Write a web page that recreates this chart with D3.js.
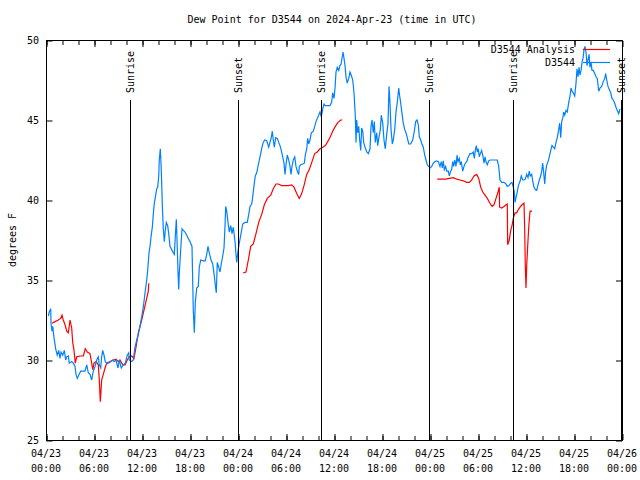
<!DOCTYPE html>
<html><head><meta charset="utf-8">
<script src="https://cdn.jsdelivr.net/npm/d3@7"></script>
<style>
body{margin:0;background:#fff}
text{font-family:"DejaVu Sans Mono","Liberation Mono",monospace;font-size:10px;fill:#000}
</style>
</head><body>
<svg id="chart" width="640" height="480"></svg>
<script>
// ---------------- data ----------------
const chartTitle = "Dew Point for D3544 on 2024-Apr-23 (time in UTC)";
const yLabel = "degrees F";
const startTime = "2024-04-23T00:00:00Z";
const spanHours = 72;
const seriesNames = ["D3544 Analysis", "D3544"];
const seriesColors = ["#ff0000", "#0080ff"];
const yTicks = [25, 30, 35, 40, 45, 50];
const xTickLabels = [
  ["04/23","00:00"],["04/23","06:00"],["04/23","12:00"],["04/23","18:00"],
  ["04/24","00:00"],["04/24","06:00"],["04/24","12:00"],["04/24","18:00"],
  ["04/25","00:00"],["04/25","06:00"],["04/25","12:00"],["04/25","18:00"],
  ["04/26","00:00"]
];
const sunEventHours = [10.56, 23.96, 34.41, 47.91, 58.41, 71.88];
const sunEventNames = ["Sunrise","Sunset","Sunrise","Sunset","Sunrise","Sunset"];

// observations: [hours since start, dew point F]
const obsSeries = [[0.29,32.75],[0.41,33.0],[0.59,33.2],[0.63,32.3],[0.75,31.8],[0.84,32.1],[1.0,31.4],[1.21,30.7],[1.41,30.3],[1.59,30.6],[1.75,30.1],[1.88,30.5],[2.09,30.3],[2.29,30.6],[2.46,30.0],[2.59,30.2],[2.79,30.25],[2.91,29.8],[3.21,29.9],[3.41,29.8],[3.63,29.6],[3.75,29.1],[3.91,28.85],[4.13,29.1],[4.34,29.3],[4.59,29.3],[4.88,29.3],[5.09,29.7],[5.29,29.2],[5.5,29.1],[5.71,28.75],[5.91,29.3],[6.13,29.6],[6.34,30.0],[6.54,30.2],[6.66,29.7],[6.84,29.5],[6.96,30.2],[7.09,30.6],[7.25,30.3],[7.41,29.9],[7.59,29.8],[7.79,29.8],[8.09,29.9],[8.34,30.0],[8.5,29.9],[8.75,30.0],[9.0,29.5],[9.16,30.0],[9.41,29.5],[9.66,29.7],[9.91,29.8],[10.16,30.3],[10.34,30.45],[10.41,30.0],[10.71,29.9],[10.91,30.0],[11.13,30.8],[11.34,31.25],[11.54,31.6],[11.75,32.1],[11.96,32.7],[12.16,33.3],[12.38,34.2],[12.59,35.0],[12.71,35.6],[12.88,36.7],[13.0,37.1],[13.13,37.7],[13.29,38.3],[13.41,39.1],[13.54,39.8],[13.71,40.3],[13.84,40.7],[13.96,40.8],[14.09,41.5],[14.16,42.5],[14.29,43.2],[14.41,41.9],[14.54,39.7],[14.66,38.2],[14.79,37.4],[14.91,38.1],[15.04,38.6],[15.21,38.4],[15.34,37.9],[15.5,37.1],[15.71,36.9],[15.91,36.7],[16.04,36.6],[16.16,37.7],[16.29,38.8],[16.41,37.0],[16.5,35.5],[16.59,34.4],[16.66,35.4],[16.84,36.9],[17.0,38.2],[17.16,38.1],[17.38,38.0],[17.59,37.8],[17.79,37.6],[18.0,37.4],[18.25,37.1],[18.41,33.1],[18.54,31.7],[18.66,33.6],[18.84,34.5],[19.04,34.6],[19.16,35.8],[19.34,36.25],[19.66,36.2],[19.91,36.2],[20.09,36.6],[20.25,37.1],[20.41,36.7],[20.63,36.25],[20.84,36.0],[21.0,35.4],[21.16,34.7],[21.29,34.2],[21.41,36.1],[21.59,35.8],[21.75,35.5],[21.91,36.0],[22.09,36.5],[22.25,37.0],[22.38,38.4],[22.46,39.6],[22.59,39.3],[22.75,38.6],[22.91,38.0],[23.09,38.4],[23.25,37.9],[23.41,38.3],[23.63,37.4],[23.75,36.6],[23.84,36.1],[24.0,36.8],[24.16,37.3],[24.38,37.9],[24.59,38.5],[24.88,38.6],[25.16,38.6],[25.34,39.1],[25.5,39.6],[25.71,39.75],[25.84,40.2],[26.0,40.9],[26.16,41.5],[26.34,41.7],[26.5,42.1],[26.66,42.5],[26.84,42.9],[27.0,43.3],[27.16,43.6],[27.34,43.75],[27.59,43.7],[27.84,43.3],[28.0,43.6],[28.16,43.9],[28.29,44.3],[28.41,43.75],[28.54,43.3],[28.71,43.9],[28.91,43.85],[29.09,43.6],[29.25,43.4],[29.41,43.1],[29.59,42.7],[29.75,42.3],[29.88,41.6],[30.0,42.2],[30.16,42.8],[30.34,42.5],[30.5,42.1],[30.63,41.6],[30.75,42.1],[30.91,42.5],[31.09,42.7],[31.25,42.1],[31.41,41.8],[31.59,41.6],[31.66,42.1],[31.84,42.2],[32.09,42.25],[32.29,42.3],[32.41,42.8],[32.59,43.2],[32.71,43.85],[32.84,43.5],[33.0,43.75],[33.16,44.2],[33.41,44.3],[33.59,44.6],[33.75,44.9],[33.91,45.1],[34.09,45.3],[34.25,45.5],[34.41,45.2],[34.59,45.7],[34.75,46.0],[34.91,45.9],[35.16,45.9],[35.5,45.9],[35.71,46.1],[35.84,46.7],[36.0,46.35],[36.13,47.0],[36.25,48.0],[36.41,48.3],[36.59,48.1],[36.75,48.4],[36.88,48.5],[37.0,48.85],[37.13,49.25],[37.25,48.85],[37.38,48.4],[37.5,47.7],[37.66,47.3],[37.84,47.6],[38.0,48.0],[38.16,47.8],[38.34,47.5],[38.5,46.7],[38.66,45.3],[38.75,43.6],[38.84,45.0],[38.96,44.2],[39.09,44.6],[39.21,43.75],[39.34,43.1],[39.46,44.5],[39.59,44.3],[39.71,43.6],[39.88,43.3],[40.09,43.0],[40.29,42.9],[40.5,43.2],[40.63,44.6],[40.75,45.0],[40.91,44.2],[41.04,44.9],[41.16,43.6],[41.34,44.2],[41.46,43.4],[41.63,43.95],[41.79,44.4],[41.91,45.3],[42.09,44.8],[42.25,43.75],[42.41,43.2],[42.59,44.1],[42.75,44.8],[42.88,47.1],[43.0,46.05],[43.13,44.4],[43.29,43.5],[43.41,43.75],[43.59,44.4],[43.75,45.5],[43.91,46.1],[44.09,47.0],[44.21,46.5],[44.34,46.05],[44.5,45.4],[44.66,44.8],[44.84,44.4],[45.0,44.2],[45.16,43.9],[45.34,43.5],[45.59,43.5],[45.84,43.75],[46.04,44.3],[46.21,44.9],[46.38,45.0],[46.54,44.7],[46.66,43.95],[46.84,43.75],[47.0,43.5],[47.16,43.3],[47.34,42.8],[47.5,42.5],[47.66,42.2],[47.84,42.1],[48.0,42.0],[48.21,42.1],[48.41,42.3],[48.63,42.4],[48.84,42.45],[49.04,42.4],[49.25,42.1],[49.41,42.4],[49.54,42.0],[49.66,42.45],[49.79,41.9],[49.96,42.1],[50.09,41.8],[50.29,41.8],[50.41,41.5],[50.59,41.8],[50.71,41.9],[50.84,42.4],[50.96,42.1],[51.09,42.5],[51.25,42.1],[51.38,42.8],[51.5,42.4],[51.66,42.6],[51.79,42.2],[51.91,42.4],[52.09,41.8],[52.25,42.1],[52.41,42.3],[52.59,42.4],[52.79,42.7],[53.0,42.9],[53.21,42.9],[53.41,43.0],[53.54,42.6],[53.66,43.1],[53.79,43.4],[53.91,43.0],[54.04,43.2],[54.16,42.7],[54.29,42.9],[54.46,43.1],[54.63,42.7],[54.75,42.3],[54.88,42.7],[55.0,42.4],[55.16,42.2],[55.34,42.45],[55.5,42.5],[55.91,42.5],[56.41,42.5],[56.59,42.1],[56.75,41.25],[56.96,41.1],[57.25,41.1],[57.5,41.0],[57.66,40.85],[57.88,40.9],[58.09,41.05],[58.25,41.1],[58.41,40.8],[58.54,40.5],[58.63,39.85],[58.75,40.15],[58.91,40.5],[59.04,40.9],[59.25,41.15],[59.41,41.5],[59.59,41.25],[59.75,41.25],[59.91,41.3],[60.09,41.6],[60.25,41.4],[60.41,41.8],[60.54,41.5],[60.71,41.6],[60.84,41.2],[61.0,40.8],[61.16,40.65],[61.34,40.6],[61.5,40.95],[61.66,41.25],[61.84,41.5],[61.96,41.8],[62.09,42.3],[62.21,41.7],[62.34,41.0],[62.46,41.8],[62.59,42.2],[62.75,42.4],[62.91,42.7],[63.09,43.1],[63.25,43.4],[63.41,43.3],[63.59,43.2],[63.75,43.6],[63.91,43.9],[64.09,44.4],[64.21,44.8],[64.34,43.9],[64.46,44.9],[64.59,45.1],[64.71,45.5],[64.84,45.3],[65.0,45.6],[65.16,45.5],[65.34,46.1],[65.5,46.5],[65.63,47.0],[65.75,46.8],[65.91,46.7],[66.09,46.5],[66.25,47.3],[66.38,48.2],[66.5,47.7],[66.63,48.3],[66.75,47.8],[66.88,48.1],[67.0,48.6],[67.13,48.85],[67.25,49.4],[67.38,49.6],[67.5,49.25],[67.63,48.4],[67.75,48.75],[67.88,49.1],[68.0,48.3],[68.13,48.6],[68.25,48.1],[68.41,48.1],[68.59,47.9],[68.75,47.7],[68.91,47.6],[69.09,46.8],[69.25,47.0],[69.46,47.1],[69.66,47.4],[69.84,47.6],[69.96,47.9],[70.09,47.5],[70.25,47.1],[70.41,46.9],[70.59,46.7],[70.75,46.35],[70.91,46.25],[71.09,46.05],[71.25,45.8],[71.41,45.6],[71.59,45.4],[71.75,45.7]];

// analysis: [hours since start, dew point F]; null = gap
const anaSeries = [[0.75,32.3],[1.13,32.4],[1.54,32.5],[1.84,32.6],[2.0,32.8],[2.16,32.5],[2.38,32.2],[2.59,31.8],[2.79,31.7],[3.0,32.5],[3.21,32.0],[3.34,31.1],[3.5,30.6],[3.66,29.8],[3.84,30.2],[4.25,30.25],[4.66,30.25],[4.91,30.7],[5.16,30.5],[5.5,30.4],[5.71,29.8],[5.84,29.4],[6.0,29.8],[6.25,29.9],[6.54,29.7],[6.66,28.75],[6.79,27.4],[6.96,28.75],[7.16,29.1],[7.38,29.5],[7.59,29.8],[8.0,29.9],[8.41,30.0],[8.75,30.05],[9.04,29.9],[9.25,30.0],[9.59,29.7],[9.88,29.7],[10.16,30.0],[10.41,30.2],[10.71,30.25],[11.0,30.1],[11.25,30.8],[11.54,31.7],[11.96,32.5],[12.38,33.4],[12.79,34.3],[12.84,34.8],[13.5,null],[24.66,35.45],[25.0,35.5],[25.29,36.25],[25.59,37.1],[25.91,37.25],[26.25,37.9],[26.59,38.6],[26.96,39.1],[27.29,39.7],[27.66,40.1],[28.09,40.3],[28.41,40.7],[28.75,41.0],[29.04,41.0],[29.46,40.9],[29.88,40.9],[30.29,40.9],[30.71,40.95],[31.0,40.8],[31.34,40.4],[31.66,40.1],[31.96,40.4],[32.25,40.9],[32.59,41.6],[32.91,41.9],[33.25,42.4],[33.59,42.9],[33.91,43.0],[34.25,43.2],[34.59,43.3],[34.91,43.4],[35.16,43.6],[35.5,43.9],[35.84,44.3],[36.16,44.6],[36.5,44.85],[36.84,45.0],[37.04,45.0],[38.0,null],[48.91,41.3],[49.46,41.3],[50.0,41.3],[50.41,41.35],[50.91,41.4],[51.34,41.3],[51.75,41.25],[52.16,41.2],[52.59,41.1],[52.91,41.1],[53.21,41.25],[53.5,41.5],[53.84,41.6],[54.09,41.35],[54.34,40.8],[54.59,40.5],[54.88,40.3],[55.16,40.1],[55.5,39.8],[55.75,39.6],[56.0,39.7],[56.25,40.1],[56.5,40.5],[56.66,40.8],[56.7,39.55],[56.96,39.5],[57.25,39.6],[57.5,39.7],[57.66,39.75],[57.71,37.2],[57.91,37.5],[58.09,38.1],[58.25,38.4],[58.41,38.85],[58.63,39.2],[58.84,39.2],[59.04,39.4],[59.25,39.55],[59.5,39.7],[59.75,39.8],[59.84,38.1],[59.91,35.9],[60.0,34.5],[60.09,35.9],[60.21,37.1],[60.34,38.3],[60.5,39.3],[60.75,39.3]];

// ---------------- chart ----------------
const svg = d3.select("#chart");
const M = {left: 46, right: 622, top: 40, bottom: 440};
const t0 = new Date(startTime);
const toDate = h => new Date(t0.getTime() + h * 3600e3);

const x = d3.scaleUtc().domain([t0, toDate(spanHours)]).range([M.left, M.right]);
const y = d3.scaleLinear().domain([25, 50]).range([M.bottom, M.top]);

// frame
svg.append("rect").attr("x", M.left + 0.5).attr("y", M.top + 0.5)
  .attr("width", M.right - M.left).attr("height", M.bottom - M.top)
  .attr("fill", "none").attr("stroke", "#000").attr("stroke-width", 1);

const minorTimes = d3.utcHour.every(2).range(t0, toDate(spanHours));
const majorTimes = d3.utcHour.every(6).range(t0, toDate(spanHours + 1));

function styleAxis(g){ g.select(".domain").remove(); g.selectAll("line").attr("stroke","#000"); g.selectAll("text").remove(); }

// bottom and top ticks (inward)
svg.append("g").attr("transform", `translate(0.5,${M.bottom})`)
  .call(d3.axisBottom(x).tickValues(minorTimes).tickSize(-4)).call(styleAxis);
svg.append("g").attr("transform", `translate(0.5,${M.top + 1})`)
  .call(d3.axisTop(x).tickValues(minorTimes).tickSize(-4)).call(styleAxis);
svg.append("g").attr("transform", `translate(0.5,${M.bottom})`)
  .call(d3.axisBottom(x).tickValues(majorTimes).tickSize(-6)).call(styleAxis);
svg.append("g").attr("transform", `translate(0.5,${M.top + 1})`)
  .call(d3.axisTop(x).tickValues(majorTimes).tickSize(-6)).call(styleAxis);

// left and right ticks (inward)
svg.append("g").attr("transform", `translate(${M.left + 0.5},0.5)`)
  .call(d3.axisLeft(y).tickValues(yTicks).tickSize(-6)).call(styleAxis);
svg.append("g").attr("transform", `translate(${M.right},0.5)`)
  .call(d3.axisRight(y).tickValues(yTicks).tickSize(-6)).call(styleAxis);

// y tick labels
svg.append("g").selectAll("text").data(yTicks).join("text")
  .attr("x", 39).attr("y", d => y(d)).attr("dy", "0.35em")
  .attr("text-anchor", "end").text(d => d);

// x tick labels
const xl = svg.append("g").selectAll("text").data(majorTimes).join("text")
  .attr("text-anchor", "middle");
xl.append("tspan").attr("x", d => x(d)).attr("y", 457).text((d,i) => xTickLabels[i][0]);
xl.append("tspan").attr("x", d => x(d)).attr("y", 472).text((d,i) => xTickLabels[i][1]);

// title and y label
svg.append("text").attr("x", 332).attr("y", 23).attr("text-anchor", "middle").text(chartTitle);
svg.append("text").attr("transform", "translate(12,240) rotate(-90)")
  .attr("dy", "0.35em").attr("text-anchor", "middle").text(yLabel);

// series
const line = d3.line()
  .defined(d => d[1] !== null)
  .x(d => x(toDate(d[0])))
  .y(d => y(d[1]));

svg.append("path").datum(anaSeries).attr("d", line)
  .attr("fill", "none").attr("stroke", seriesColors[0]).attr("stroke-width", 1.2);
svg.append("path").datum(obsSeries).attr("d", line)
  .attr("fill", "none").attr("stroke", seriesColors[1]).attr("stroke-width", 1.2);

// sunrise / sunset
const sun = svg.append("g");
sun.selectAll("line").data(sunEventHours).join("line")
  .attr("x1", d => Math.round(x(toDate(d))) + 0.5).attr("x2", d => Math.round(x(toDate(d))) + 0.5)
  .attr("y1", 100).attr("y2", M.bottom)
  .attr("stroke", "#000").attr("stroke-width", 1);
sun.selectAll("text").data(sunEventHours).join("text")
  .attr("transform", d => `translate(${Math.round(x(toDate(d))) + 0.5},93) rotate(-90)`)
  .attr("dy", "0.35em").attr("text-anchor", "start")
  .text((d,i) => sunEventNames[i]);

// legend
const leg = svg.append("g");
seriesNames.forEach((name, i) => {
  const ly = 49 + i * 13;
  leg.append("text").attr("x", 575).attr("y", ly).attr("dy", "0.35em")
    .attr("text-anchor", "end").text(name);
  leg.append("line").attr("x1", 583).attr("x2", 610).attr("y1", ly + 0.5).attr("y2", ly + 0.5)
    .attr("stroke", seriesColors[i]).attr("stroke-width", 1.2);
});
</script>
</body></html>
